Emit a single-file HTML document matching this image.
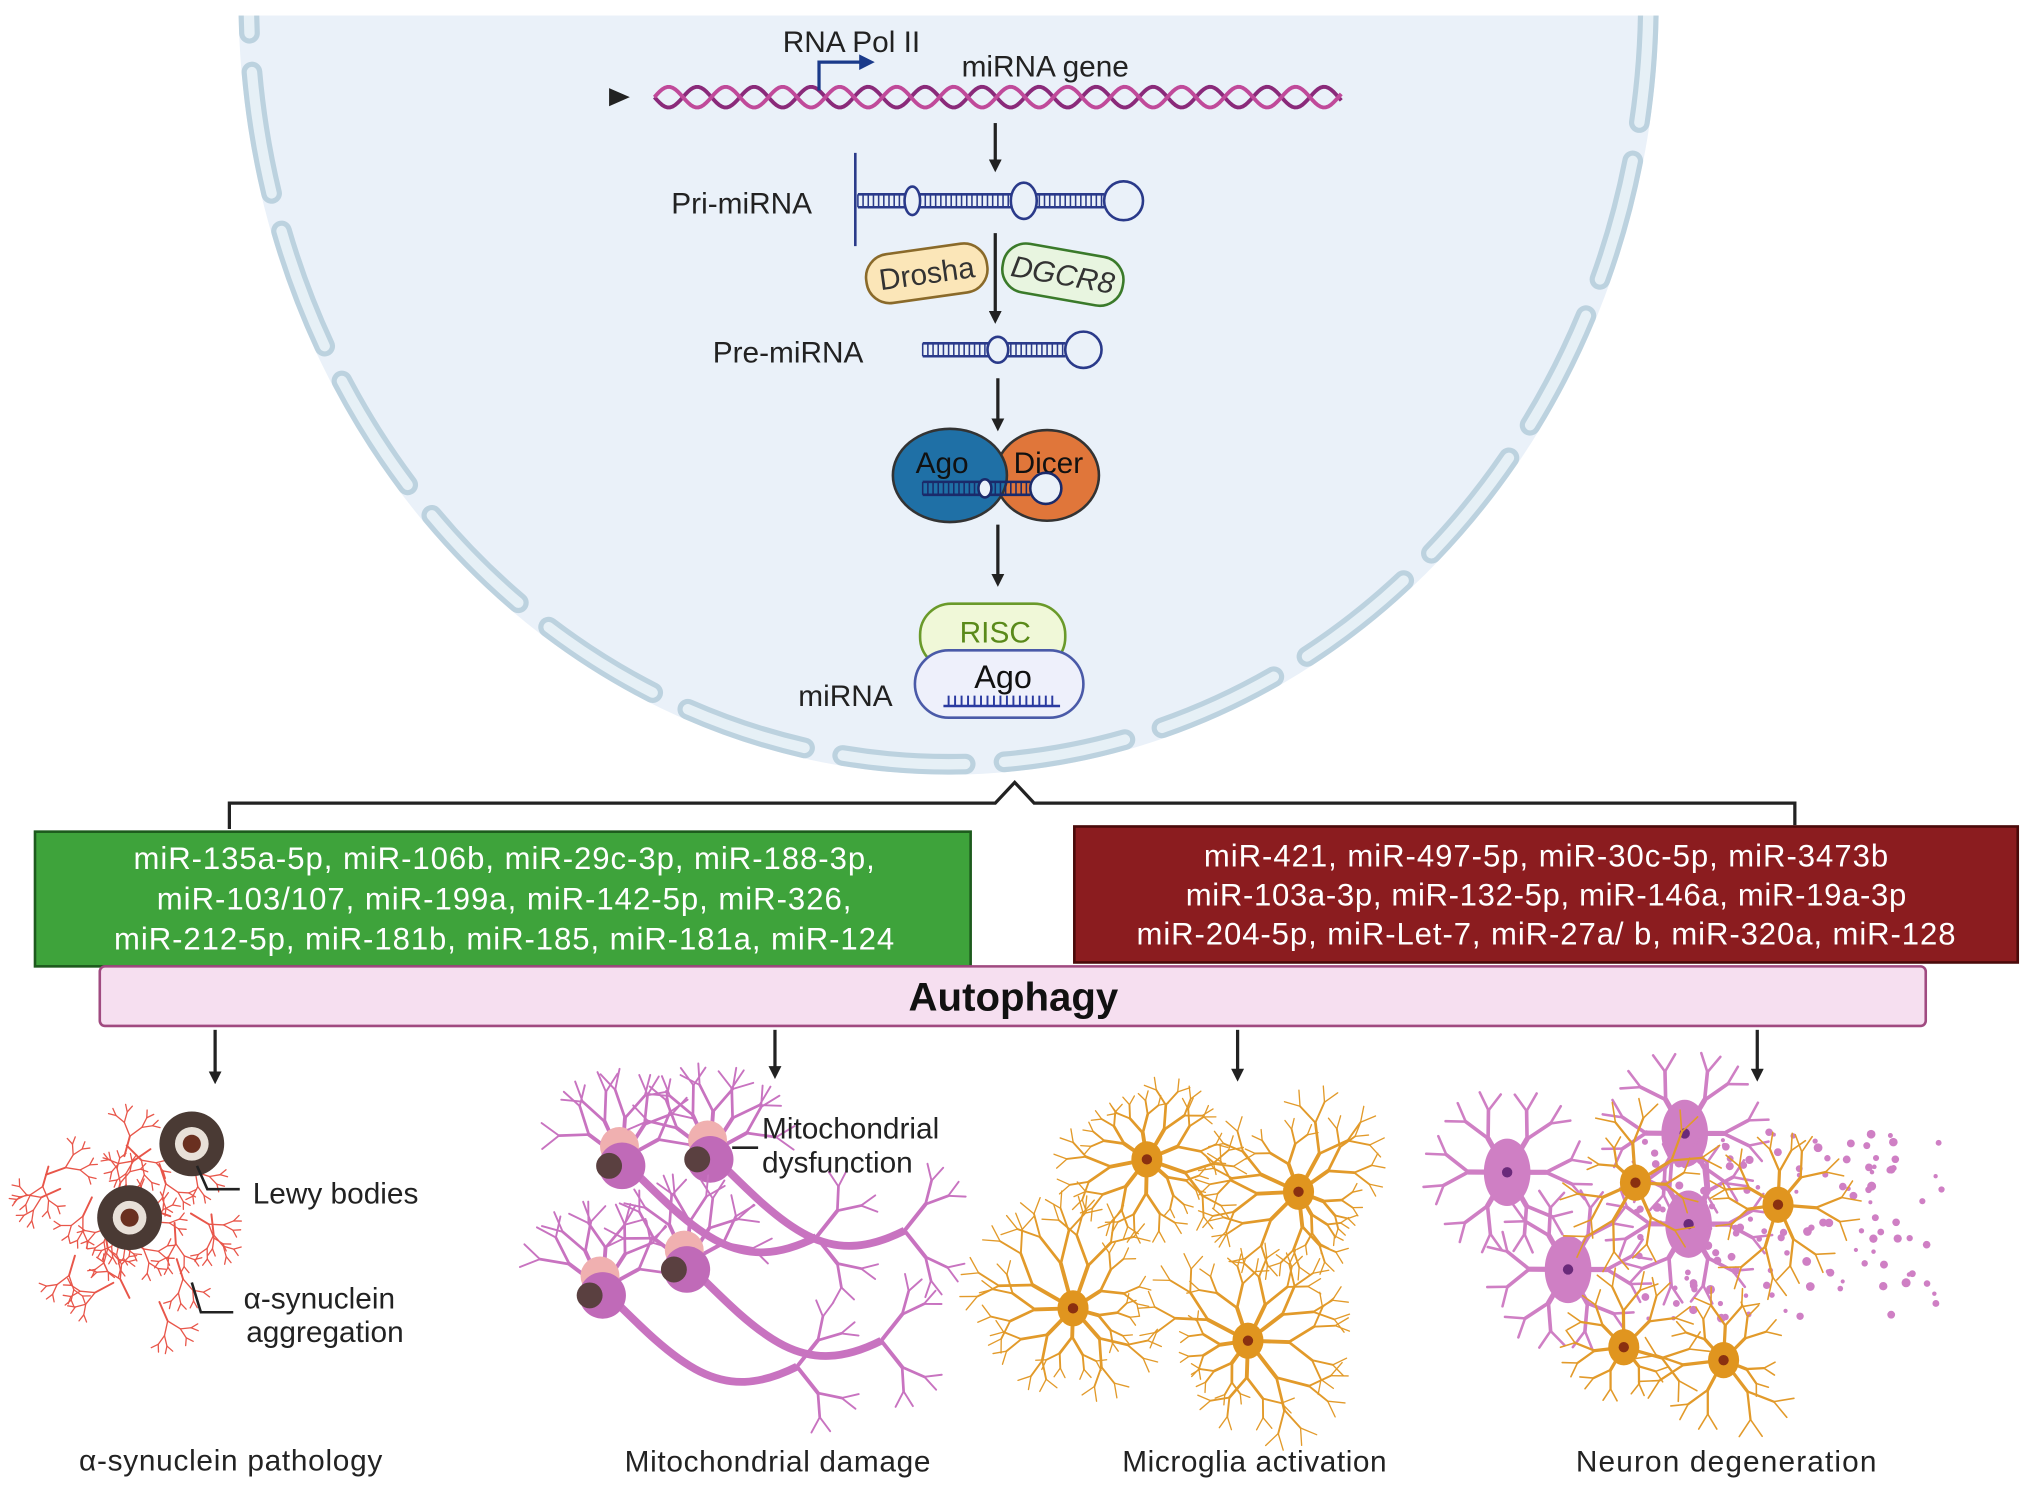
<!DOCTYPE html>
<html><head><meta charset="utf-8"><style>
html,body{margin:0;padding:0;background:#fff}
svg{display:block}
text{font-family:"Liberation Sans",sans-serif}
</style></head><body>
<svg id="s" width="2032" height="1491" viewBox="0 0 1568 1151" preserveAspectRatio="none" xmlns="http://www.w3.org/2000/svg">
<defs>
<marker id="ah" markerWidth="10" markerHeight="10" refX="5" refY="5" orient="auto" markerUnits="userSpaceOnUse"><path d="M0,0 L10,5 L0,10 z" fill="#222"/></marker>
<clipPath id="nc"><rect x="180" y="0" width="1110" height="620"/></clipPath>
</defs>
<g clip-path="url(#nc)">
<ellipse cx="732" cy="0" rx="548" ry="598" fill="#eaf1f9"/>
<ellipse cx="732" cy="0" rx="540" ry="590" fill="none" stroke="#bcd2df" stroke-width="16" stroke-dasharray="95 30" stroke-linecap="round"/>
<ellipse cx="732" cy="0" rx="540" ry="590" fill="none" stroke="#e6f0f6" stroke-width="8" stroke-dasharray="95 30" stroke-linecap="round"/>
<rect x="180" y="0" width="1110" height="12" fill="#fff"/>
</g>
<path d="M470,68 L486,75 L470,82 z" fill="#222"/>
<g id="dna"></g>
<path d="M632,70 L632,48 L665,48" fill="none" stroke="#1a3a8a" stroke-width="2.5"/>
<path d="M663,42 L675,48 L663,54 z" fill="#1a3a8a"/>
<text x="604" y="40" font-size="23" fill="#222">RNA Pol II</text>
<text x="742" y="59" font-size="23" fill="#222">miRNA gene</text>
<line x1="768" y1="95" x2="768" y2="128" stroke="#222" stroke-width="2.5" marker-end="url(#ah)"/>
<text x="518" y="165" font-size="23" fill="#222">Pri-miRNA</text>
<line x1="660" y1="118" x2="660" y2="190" stroke="#2a3a8a" stroke-width="2"/>
<g id="pri"></g>
<line x1="768" y1="180" x2="768" y2="245" stroke="#222" stroke-width="2.5" marker-end="url(#ah)"/>
<g transform="rotate(-8 715 210)"><rect x="668" y="192" width="94" height="38" rx="18" fill="#fbe6b8" stroke="#8a6a2a" stroke-width="2"/><text x="715" y="219" font-size="23" text-anchor="middle" fill="#333">Drosha</text></g>
<g transform="rotate(10 820 213)"><rect x="773" y="193" width="94" height="38" rx="18" fill="#e8f5e0" stroke="#3a7a2a" stroke-width="2"/><text x="820" y="220" font-size="23" font-style="italic" text-anchor="middle" fill="#333">DGCR8</text></g>
<text x="550" y="280" font-size="23" fill="#222">Pre-miRNA</text>
<g id="pre"></g>
<line x1="770" y1="292" x2="770" y2="328" stroke="#222" stroke-width="2.5" marker-end="url(#ah)"/>
<ellipse cx="808" cy="367" rx="40" ry="35" fill="#e0763a" stroke="#333" stroke-width="2"/>
<ellipse cx="733" cy="367" rx="44" ry="36" fill="#1f70a6" stroke="#333" stroke-width="2"/>
<text x="727" y="365" font-size="23" text-anchor="middle" fill="#111">Ago</text>
<text x="809" y="365" font-size="23" text-anchor="middle" fill="#111">Dicer</text>
<g id="ad"></g>
<line x1="770" y1="405" x2="770" y2="448" stroke="#222" stroke-width="2.5" marker-end="url(#ah)"/>
<rect x="710" y="466" width="112" height="50" rx="24" fill="#f0f8d8" stroke="#6a9a2a" stroke-width="2"/>
<text x="768" y="496" font-size="23" text-anchor="middle" fill="#5a8a1a">RISC</text>
<rect x="706" y="502" width="130" height="52" rx="26" fill="#eef0fb" stroke="#4a5aa8" stroke-width="2"/>
<text x="774" y="531" font-size="25" text-anchor="middle" fill="#111">Ago</text>
<g id="mi"></g>
<text x="616" y="545" font-size="23" fill="#222">miRNA</text>
<path d="M177,640 L177,620 L768,620 L783,604 L798,620 L1385,620 L1385,637" fill="none" stroke="#222" stroke-width="2.5"/>
<rect x="27" y="642" width="722" height="104" fill="#3ea33b" stroke="#1d5a1d" stroke-width="2"/>
<text font-size="24" fill="#fff" text-anchor="middle"><tspan x="389" y="671" textLength="572">miR-135a-5p, miR-106b, miR-29c-3p, miR-188-3p,</tspan><tspan x="389" y="702" textLength="536">miR-103/107, miR-199a, miR-142-5p, miR-326,</tspan><tspan x="389" y="733" textLength="602">miR-212-5p, miR-181b, miR-185, miR-181a, miR-124</tspan></text>
<rect x="829" y="638" width="728" height="105" fill="#8b1c1f" stroke="#4a0a0a" stroke-width="2"/>
<text font-size="24" fill="#fff" text-anchor="middle"><tspan x="1193" y="669" textLength="528">miR-421, miR-497-5p, miR-30c-5p, miR-3473b</tspan><tspan x="1193" y="699" textLength="556">miR-103a-3p, miR-132-5p, miR-146a, miR-19a-3p</tspan><tspan x="1193" y="729" textLength="632">miR-204-5p, miR-Let-7, miR-27a/ b, miR-320a, miR-128</tspan></text>
<rect x="77" y="746" width="1409" height="46" rx="4" fill="#f6dff0" stroke="#a04a80" stroke-width="2"/>
<text x="782" y="780" font-size="31" font-weight="bold" text-anchor="middle" fill="#111">Autophagy</text>
<g stroke="#222" stroke-width="2.5">
<line x1="166" y1="795" x2="166" y2="832" marker-end="url(#ah)"/>
<line x1="598" y1="795" x2="598" y2="828" marker-end="url(#ah)"/>
<line x1="955" y1="795" x2="955" y2="830" marker-end="url(#ah)"/>
<line x1="1356" y1="795" x2="1356" y2="830" marker-end="url(#ah)"/>
</g>
<g id="cells"></g>
<text x="178" y="1135" font-size="23" text-anchor="middle" fill="#222" textLength="234">α-synuclein pathology</text>
<text x="600" y="1136" font-size="23" text-anchor="middle" fill="#222" textLength="236">Mitochondrial damage</text>
<text x="968" y="1136" font-size="23" text-anchor="middle" fill="#222" textLength="204">Microglia activation</text>
<text x="1332" y="1136" font-size="23" text-anchor="middle" fill="#222" textLength="232">Neuron  degeneration</text>
<text x="195" y="929" font-size="23" fill="#222">Lewy bodies</text>
<path d="M152,900 L160,918 L185,918" fill="none" stroke="#222" stroke-width="2"/>
<text x="188" y="1010" font-size="23" fill="#222">α-synuclein</text>
<text x="190" y="1036" font-size="23" fill="#222">aggregation</text>
<path d="M148,990 L155,1013 L180,1013" fill="none" stroke="#222" stroke-width="2"/>
<text x="588" y="879" font-size="23" fill="#222">Mitochondrial</text>
<text x="588" y="905" font-size="23" fill="#222">dysfunction</text>
<line x1="565" y1="886" x2="585" y2="886" stroke="#222" stroke-width="2"/>
</svg>
<script>
var NS="http://www.w3.org/2000/svg";
function el(p,t,a){var e=document.createElementNS(NS,t);for(var k in a)e.setAttribute(k,a[k]);p.appendChild(e);return e;}
var d=document.getElementById('dna'),s1="",s2="";
for(var x=505;x<=1035;x+=2){var y1=75+8*Math.sin((x-505)/7),y2=75-8*Math.sin((x-505)/7);s1+=(x==505?"M":"L")+x+","+y1;s2+=(x==505?"M":"L")+x+","+y2;}
el(d,'path',{d:s1,fill:'none',stroke:'#8a2a7a','stroke-width':3});
el(d,'path',{d:s2,fill:'none',stroke:'#c04a9a','stroke-width':3});
function hair(g,x1,x2,y,bulges,loopr,col){
 el(g,'line',{x1:x1,y1:y-5,x2:x2,y2:y-5,stroke:col,'stroke-width':2});
 el(g,'line',{x1:x1,y1:y+5,x2:x2,y2:y+5,stroke:col,'stroke-width':2});
 for(var x=x1;x<x2;x+=4)el(g,'line',{x1:x,y1:y-5,x2:x,y2:y+5,stroke:col,'stroke-width':1.2});
 bulges.forEach(function(b){el(g,'ellipse',{cx:b[0],cy:y,rx:b[1],ry:b[2],fill:'#eaf1f9',stroke:col,'stroke-width':2});});
 el(g,'circle',{cx:x2+loopr,cy:y,r:loopr,fill:'#eaf1f9',stroke:col,'stroke-width':2});
}
hair(document.getElementById('pri'),662,852,155,[[704,6,11],[790,10,14]],15,'#2a3a8a');
hair(document.getElementById('pre'),712,822,270,[[770,8,10]],14,'#2a3a8a');
var ad=document.getElementById('ad');hair(ad,712,795,377,[[760,5,7]],12,'#1a2a6a');
var mi=document.getElementById('mi');
el(mi,'line',{x1:728,y1:545,x2:818,y2:545,stroke:'#2a3aa0','stroke-width':2});
for(var x=732;x<816;x+=5)el(mi,'line',{x1:x,y1:537,x2:x,y2:545,stroke:'#2a3aa0','stroke-width':1.5});
var c=document.getElementById('cells');
var seed=7;function r(){seed=(seed*9301+49297)%233280;return seed/233280;}
function branch(g,x,y,a,len,w,depth,col){
 if(depth<=0||len<4)return;
 var x2=x+Math.cos(a)*len,y2=y+Math.sin(a)*len;
 el(g,'line',{x1:x,y1:y,x2:x2,y2:y2,stroke:col,'stroke-width':w,'stroke-linecap':'round'});
 branch(g,x2,y2,a+0.4+r()*0.3,len*0.72,Math.max(w*0.7,1),depth-1,col);
 branch(g,x2,y2,a-0.4-r()*0.3,len*0.72,Math.max(w*0.7,1),depth-1,col);
}
function cell(cx,cy,col,body,n,len,depth,w){
 for(var i=0;i<n;i++){branch(c,cx,cy,i*2*Math.PI/n+r()*0.4,len*(0.7+r()*0.6),w,depth,col);}
 el(c,'ellipse',{cx:cx,cy:cy,rx:12,ry:14,fill:body});
 el(c,'circle',{cx:cx,cy:cy,r:4,fill:'#8a3010'});
}
for(var i=0;i<24;i++){var x=35+r()*130,y=875+r()*140;branch(c,x,y,r()*6.28,16,1.5,4,'#e8564a');}
[[148,883],[100,940]].forEach(function(p){
 el(c,'circle',{cx:p[0],cy:p[1],r:25,fill:'#4a3a34'});
 el(c,'circle',{cx:p[0],cy:p[1],r:13,fill:'#e8e0d8'});
 el(c,'circle',{cx:p[0],cy:p[1],r:7,fill:'#6a3020'});});
[[480,895],[548,890],[465,995],[530,975]].forEach(function(p){
 for(var i=0;i<5;i++)branch(c,p[0],p[1],-2.5+i*0.5,32,3,3,'#c873c0');
 el(c,'path',{d:'M'+p[0]+','+p[1]+' C'+(p[0]+60)+','+(p[1]+60)+' '+(p[0]+90)+','+(p[1]+90)+' '+(p[0]+150)+','+(p[1]+60),fill:'none',stroke:'#c873c0','stroke-width':6});
 branch(c,p[0]+150,p[1]+60,-0.9,26,3,3,'#c873c0');branch(c,p[0]+150,p[1]+60,0.9,26,3,3,'#c873c0');
 el(c,'circle',{cx:p[0]-2,cy:p[1]-10,r:15,fill:'#f0b0b0'});
 el(c,'circle',{cx:p[0],cy:p[1]+5,r:18,fill:'#c06ab8'});
 el(c,'circle',{cx:p[0]-10,cy:p[1]+5,r:10,fill:'#5a4040'});
});
[[885,895],[1002,920],[828,1010],[963,1035]].forEach(function(p){cell(p[0],p[1],'#e29a2a','#e0951f',9,28,4,3);});
[[1300,875],[1163,905],[1303,945],[1210,980]].forEach(function(p){
 for(var i=0;i<6;i++)branch(c,p[0],p[1],i*1.05,30,4,3,'#cf7fc4');
 el(c,'ellipse',{cx:p[0],cy:p[1],rx:18,ry:26,fill:'#cf7fc4'});
 el(c,'circle',{cx:p[0],cy:p[1],r:4,fill:'#6a2a7a'});});
for(var i=0;i<140;i++)el(c,'circle',{cx:1260+r()*240,cy:870+r()*150,r:1.5+r()*2,fill:'#cf7fc4'});
[[1262,913],[1372,930],[1253,1040],[1330,1050]].forEach(function(p){cell(p[0],p[1],'#e29a2a','#e0951f',7,26,3,2.5);});
</script>
</body></html>
